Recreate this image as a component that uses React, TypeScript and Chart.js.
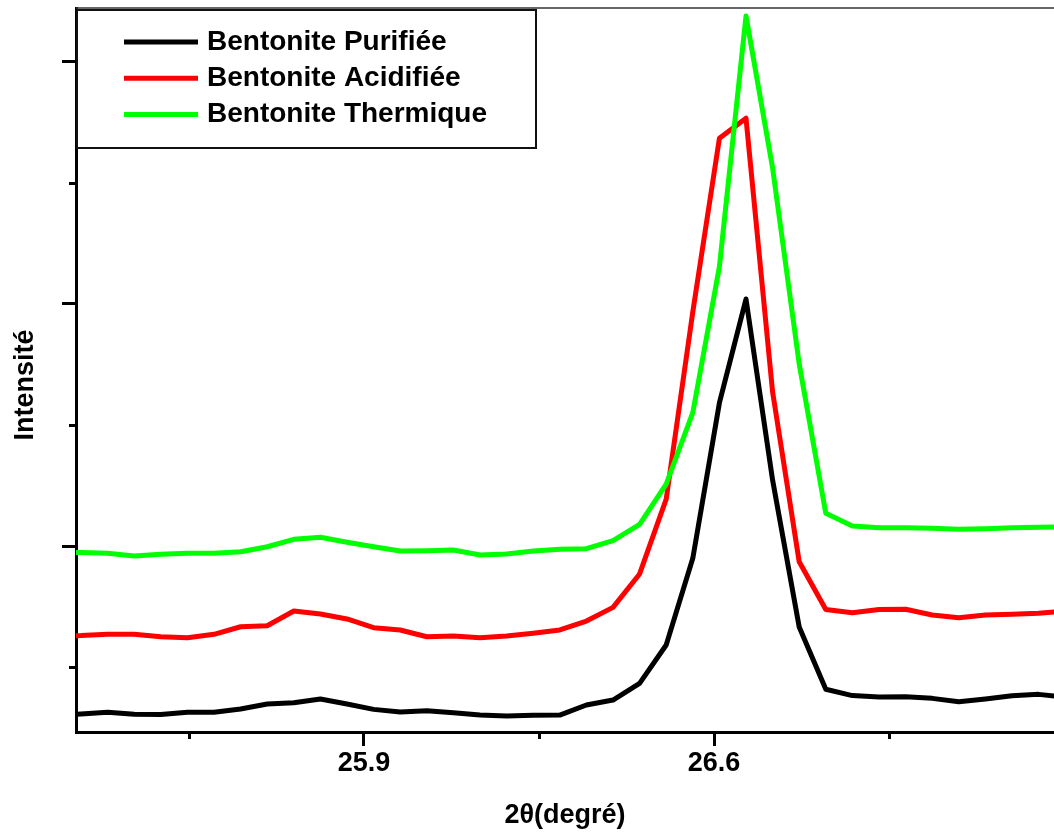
import React, { useEffect, useRef } from 'react';
import { Chart, registerables } from 'chart.js';

Chart.register(...registerables);

// 2θ positions (degrees) of the recorded points
const twoTheta = [
  25.2808, 25.334, 25.3872, 25.4404, 25.4936, 25.5468, 25.6, 25.6532, 25.7064, 25.7596,
  25.8128, 25.866, 25.9192, 25.9724, 26.0256, 26.0788, 26.132, 26.1852, 26.2384, 26.2916,
  26.3448, 26.398, 26.4512, 26.5044, 26.5576, 26.6108, 26.664, 26.7172, 26.7704, 26.8236,
  26.8768, 26.93, 26.9832, 27.0364, 27.0896, 27.1428, 27.196, 27.2492, 27.3024,
];

// Intensities (arbitrary units)
const purifiee = [
  59.5, 61.2, 62.6, 60.9, 60.7, 62.6, 62.6, 65.3, 69.4, 70.5,
  73.6, 69.4, 65.0, 62.8, 63.9, 62.2, 60.3, 59.5, 60.1, 60.3,
  68.6, 72.7, 86.5, 118.2, 189.8, 318.2, 404.1, 254.5, 133.1, 81.6,
  76.4, 75.2, 75.5, 74.1, 71.3, 73.6, 76.3, 77.4, 75.2,
];
const acidifiee = [
  125.6, 126.0, 127.0, 127.0, 125.0, 124.2, 127.0, 133.3, 134.1, 146.3,
  143.8, 139.7, 132.5, 130.6, 125.0, 125.6, 124.2, 125.6, 127.9, 130.6,
  138.0, 149.3, 176.9, 238.8, 393.4, 536.9, 553.5, 327.3, 187.0, 147.5,
  144.9, 147.5, 147.7, 143.0, 140.7, 143.0, 143.6, 144.4, 146.3,
];
const thermique = [
  195.0, 194.6, 194.0, 191.7, 193.1, 194.0, 194.0, 195.3, 199.4, 205.5,
  207.2, 203.1, 199.4, 195.9, 196.1, 196.7, 192.6, 193.4, 195.9, 197.3,
  197.8, 204.4, 217.9, 251.2, 310.2, 430.8, 638.0, 512.4, 350.4, 227.0,
  216.5, 215.1, 215.1, 214.6, 213.8, 214.3, 215.1, 215.5, 215.7,
];

const seriesLabels = ['Bentonite Purifiée', 'Bentonite Acidifiée', 'Bentonite Thermique'];
const seriesColors = ['#000000', '#ff0000', '#00ff00'];

const xMajorTicks = [25.9, 26.6];
const xTickLabels = ['25.9', '26.6'];
const xMinorTicks = [25.55, 26.25, 26.95];
const yMajorTicks = [200, 400, 600];
const yMinorTicks = [100, 300, 500];
const xMin = 25.324;
const xMax = 27.28;
const yMin = 46.3;
const yMax = 644.6;

const xTitle = '2θ(degré)';
const yTitle = 'Intensité';

const FONT_FAMILY = '"Liberation Sans", Arial, Helvetica, sans-serif';

export default function App() {
  const ref = useRef<HTMLCanvasElement | null>(null);

  useEffect(() => {
    if (!ref.current) return;
    const allSeries = [purifiee, acidifiee, thermique];

    const decor = {
      id: 'decor',
      afterDraw(chart: any) {
        const ctx = chart.ctx as CanvasRenderingContext2D;
        const area = chart.chartArea;
        const xs = chart.scales.x;
        const ys = chart.scales.y;
        ctx.save();
        // top frame line
        ctx.strokeStyle = '#333333';
        ctx.lineWidth = 1.5;
        ctx.beginPath();
        ctx.moveTo(area.left, area.top);
        ctx.lineTo(area.right, area.top);
        ctx.stroke();

        // minor ticks
        ctx.strokeStyle = '#000000';
        ctx.lineWidth = 3;
        for (const v of xMinorTicks) {
          const px = Math.round(xs.getPixelForValue(v)) + 0.5;
          ctx.beginPath();
          ctx.moveTo(px, area.bottom);
          ctx.lineTo(px, area.bottom + 7);
          ctx.stroke();
        }
        for (const v of yMinorTicks) {
          const py = Math.round(ys.getPixelForValue(v)) + 0.5;
          ctx.beginPath();
          ctx.moveTo(area.left - 7, py);
          ctx.lineTo(area.left, py);
          ctx.stroke();
        }

        // legend box
        const lx = area.left;
        const ly = area.top + 2;
        ctx.strokeStyle = '#111111';
        ctx.lineWidth = 2;
        ctx.strokeRect(lx + 1, ly, 459, 138);
        ctx.font = `bold 28px ${FONT_FAMILY}`;
        ctx.textBaseline = 'middle';
        ctx.textAlign = 'left';
        chart.data.datasets.forEach((ds: any, i: number) => {
          const cy = ly + 32 + i * 36.3;
          ctx.strokeStyle = ds.borderColor;
          ctx.lineWidth = 5;
          ctx.lineCap = 'butt';
          ctx.beginPath();
          ctx.moveTo(lx + 48, cy);
          ctx.lineTo(lx + 122, cy);
          ctx.stroke();
          ctx.fillStyle = '#000000';
          ctx.fillText(ds.label, lx + 131, cy);
        });

        // y-axis title
        ctx.font = `bold 27px ${FONT_FAMILY}`;
        ctx.translate(33, (area.top + area.bottom) / 2 + 15);
        ctx.rotate(-Math.PI / 2);
        ctx.textAlign = 'center';
        ctx.textBaseline = 'alphabetic';
        ctx.fillStyle = '#000000';
        ctx.fillText(yTitle, 0, 0);
        ctx.restore();
      },
    };

    const chart = new Chart(ref.current, {
      type: 'line',
      data: {
        datasets: allSeries.map((s, i) => ({
          label: seriesLabels[i],
          data: twoTheta.map((x, j) => ({ x, y: s[j] })),
          borderColor: seriesColors[i],
          backgroundColor: seriesColors[i],
          borderWidth: 5,
          pointRadius: 0,
          pointHoverRadius: 0,
          tension: 0,
          borderJoinStyle: 'round',
          fill: false,
          clip: 0,
          order: 3 - i,
        })),
      },
      options: {
        animation: false,
        responsive: true,
        maintainAspectRatio: false,
        layout: { padding: { top: 8, left: 0, right: 0, bottom: 0 } },
        plugins: {
          legend: { display: false },
          tooltip: { enabled: false },
        },
        scales: {
          x: {
            type: 'linear',
            min: xMin,
            max: xMax,
            afterBuildTicks: (s: any) => {
              s.ticks = xMajorTicks.map((v) => ({ value: v }));
            },
            afterFit: (s: any) => {
              s.height = 100;
            },
            grid: {
              display: true,
              drawOnChartArea: false,
              drawTicks: true,
              tickLength: 14,
              tickWidth: 3,
              tickColor: '#000000',
            },
            border: { display: true, color: '#000000', width: 3 },
            ticks: {
              autoSkip: false,
              maxRotation: 0,
              padding: 1,
              color: '#000000',
              font: { family: FONT_FAMILY, size: 27, weight: 'bold' },
              callback: (_v: any, i: number) => xTickLabels[i],
            },
            title: {
              display: true,
              text: xTitle,
              color: '#000000',
              padding: 0,
              font: { family: FONT_FAMILY, size: 27, weight: 'bold' },
            },
          },
          y: {
            type: 'linear',
            min: yMin,
            max: yMax,
            afterBuildTicks: (s: any) => {
              s.ticks = yMajorTicks.map((v) => ({ value: v }));
            },
            afterFit: (s: any) => {
              s.width = 76;
            },
            grid: {
              display: true,
              drawOnChartArea: false,
              drawTicks: true,
              tickLength: 14,
              tickWidth: 3,
              tickColor: '#000000',
            },
            border: { display: true, color: '#000000', width: 3 },
            ticks: { display: false },
            title: { display: false },
          },
        },
      },
      plugins: [decor],
    } as any);

    return () => chart.destroy();
  }, []);

  return (
    <div style={{ position: 'absolute', left: 0, top: 0, width: 1054, height: 832, background: '#ffffff' }}>
      <canvas ref={ref} />
    </div>
  );
}
